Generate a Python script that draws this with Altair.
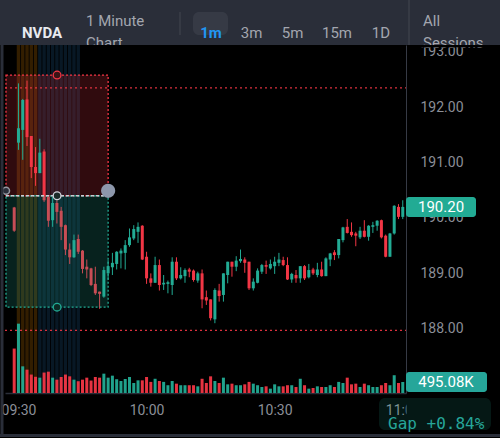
import altair as alt
import pandas as pd
import numpy as np

# ---------------- data ----------------
minutes = list(range(-1, 91))  # minutes after 09:30 (-1 = previous close bar)
opens = [190.19, 191.36, 191.59, 192.14, 191.48, 190.92, 190.81, 191.20, 190.38, 189.96,
         190.27, 190.13, 189.87, 189.43, 189.29, 189.62, 189.41, 189.12, 189.09, 188.81,
         188.67, 188.58, 189.00, 189.11, 189.17, 189.36, 189.37, 189.51, 189.63, 189.75,
         189.86, 189.30, 188.91, 188.83, 189.15, 188.80, 188.81, 188.79, 189.21, 188.91,
         188.95, 189.07, 189.05, 188.87, 189.00, 188.57, 188.53, 188.17, 188.69, 188.61,
         188.97, 189.21, 189.12, 189.22, 189.25, 189.21, 188.73, 188.83, 189.03, 189.15,
         189.09, 189.13, 189.19, 189.24, 189.15, 188.89, 188.97, 188.91, 189.13, 188.93,
         189.07, 188.97, 189.07, 188.95, 189.25, 189.38, 189.33, 189.60, 189.84, 189.75,
         189.72, 189.65, 189.77, 189.66, 189.84, 189.86, 189.96, 189.68, 189.30, 189.72,
         190.20, 190.02]
highs = [190.20, 192.43, 192.15, 192.48, 191.48, 191.28, 191.43, 191.24, 190.40, 190.38,
         190.32, 190.20, 189.88, 189.54, 189.70, 189.70, 189.42, 189.25, 189.10, 189.12,
         188.67, 189.12, 189.24, 189.37, 189.40, 189.45, 189.60, 189.81, 189.87, 189.92,
         189.87, 189.39, 189.00, 189.30, 189.25, 188.97, 188.87, 189.29, 189.29, 189.11,
         189.09, 189.10, 189.07, 189.03, 189.07, 188.69, 188.53, 188.73, 188.81, 189.00,
         189.21, 189.21, 189.31, 189.43, 189.29, 189.21, 188.91, 189.09, 189.17, 189.23,
         189.25, 189.30, 189.37, 189.30, 189.29, 189.01, 189.06, 189.13, 189.15, 189.17,
         189.10, 189.19, 189.21, 189.29, 189.37, 189.42, 189.62, 189.84, 189.98, 189.92,
         189.75, 189.84, 189.96, 189.87, 189.93, 189.96, 189.97, 189.70, 189.73, 190.23,
         190.25, 190.32]
lows = [189.75, 191.23, 191.05, 191.30, 190.72, 190.58, 190.81, 190.29, 189.84, 189.84,
        189.90, 189.60, 189.33, 189.17, 189.28, 189.35, 189.00, 188.91, 188.77, 188.61,
        188.36, 188.56, 188.88, 188.97, 189.07, 189.09, 189.07, 189.48, 189.60, 189.55,
        189.24, 188.81, 188.76, 188.83, 188.69, 188.70, 188.64, 188.61, 188.88, 188.89,
        188.83, 188.93, 188.85, 188.83, 188.37, 188.43, 188.15, 188.10, 188.49, 188.49,
        188.82, 188.94, 189.04, 189.19, 189.01, 188.70, 188.69, 188.82, 188.99, 188.99,
        189.07, 188.99, 189.13, 189.13, 188.88, 188.83, 188.83, 188.83, 188.88, 188.91,
        188.97, 188.93, 188.94, 188.95, 189.13, 189.24, 189.27, 189.56, 189.72, 189.66,
        189.49, 189.62, 189.65, 189.59, 189.73, 189.77, 189.63, 189.29, 189.30, 189.70,
        189.98, 189.98]
closes = [189.77, 191.62, 192.13, 191.46, 190.92, 190.81, 191.18, 190.32, 189.95, 190.27,
          190.11, 189.84, 189.43, 189.29, 189.60, 189.39, 189.08, 189.07, 188.79, 188.64,
          188.63, 189.06, 189.13, 189.19, 189.39, 189.41, 189.51, 189.65, 189.80, 189.84,
          189.25, 188.91, 188.83, 189.15, 188.79, 188.83, 188.84, 189.21, 188.91, 188.97,
          189.06, 189.03, 188.88, 189.00, 188.53, 188.51, 188.19, 188.70, 188.59, 189.00,
          189.21, 189.12, 189.23, 189.26, 189.19, 188.73, 188.85, 189.05, 189.15, 189.12,
          189.17, 189.21, 189.25, 189.15, 188.89, 188.99, 188.91, 189.13, 188.91, 189.06,
          189.00, 189.07, 188.95, 189.27, 189.36, 189.33, 189.62, 189.83, 189.73, 189.69,
          189.68, 189.77, 189.66, 189.86, 189.87, 189.95, 189.65, 189.30, 189.72, 190.22,
          190.02, 190.20]
volumes_k = [2000, 3120, 1200, 1050, 830, 730, 690, 920, 960, 690,
             600, 720, 830, 750, 600, 530, 600, 690, 560, 720,
             690, 870, 690, 780, 620, 540, 630, 720, 450, 570,
             570, 720, 500, 640, 540, 500, 350, 540, 420, 350,
             350, 350, 350, 300, 640, 450, 750, 540, 450, 690,
             390, 420, 350, 350, 390, 500, 420, 350, 270, 300,
             195, 390, 300, 300, 350, 350, 270, 640, 350, 195,
             225, 300, 270, 270, 350, 270, 500, 450, 690, 390,
             420, 270, 420, 350, 270, 270, 350, 450, 350, 800,
             450, 495.08]

price_ticks = [188, 189, 190, 191, 192, 193]
time_ticks = [0, 30, 60, 90]
time_labels = ["09:30", "10:00", "10:30", "11:00"]

# position tool (short) and levels
box_start, box_end = -2.92, 21.0
stop_price, entry_price, target_price = 192.58, 190.40, 188.39
handle_price = 190.49
level_prices = [192.35, 187.97]
orange_minutes = [0, 1, 2, 3, 4]
blue_minutes = [5, 6, 7, 8, 9, 10, 11, 12, 13, 14]

tabs = ["3m", "5m", "15m", "1D"]

# ---------------- styling ----------------
W, H = 401, 348
TEAL = "#22ab94"
RED = "#f23645"
GRAY = "#8b8e97"
HDR = "#2a2e39"

df = pd.DataFrame(dict(m=minutes, o=opens, h=highs, l=lows, c=closes, v=volumes_k))
df["dir"] = np.where(df.c >= df.o, "up", "down")

xs = alt.Scale(domain=[-3.155, 90.76], nice=False, zero=False, padding=0)
ys = alt.Scale(domain=[186.84, 193.123], nice=False, zero=False, padding=0)
vs = alt.Scale(domain=[0, 15660], nice=False, zero=True, padding=0)
cs = alt.Scale(domain=["up", "down"], range=[TEAL, RED])

label_expr = " : ".join(
    f"datum.value == {t} ? '{l}'" for t, l in zip(time_ticks, time_labels)) + " : ''"
XAX = alt.Axis(values=time_ticks, labelExpr=label_expr, labelColor=GRAY, labelFontSize=14,
               labelFont="Roboto", labelPadding=10, ticks=False, tickSize=0, grid=False,
               domain=True, domainColor=HDR, domainWidth=1.5, labelFlush=False,
               labelOverlap=False, title=None)
YAX = alt.Axis(orient="right", values=price_ticks, format=".2f", labelColor=GRAY,
               labelFontSize=14, labelFont="Roboto", labelPadding=14, ticks=False,
               tickSize=0, grid=False, domain=True, domainColor="#363a45", title=None)


def X(f):
    return alt.X(f, type="quantitative", scale=xs, axis=XAX)


def Y(f):
    return alt.Y(f, type="quantitative", scale=ys, axis=YAX)


one = pd.DataFrame({"k": [0]})


def rect(x0, x1, y0, y1, color, **kw):
    return alt.Chart(one).mark_rect(color=color, **kw).encode(
        x=alt.value(x0 - 5), x2=alt.value(x1 - 5), y=alt.value(y0 - 45), y2=alt.value(y1 - 45))


def vline(x, y0, y1, color, w=1):
    return alt.Chart(one).mark_rule(color=color, strokeWidth=w).encode(
        x=alt.value(x - 5), y=alt.value(y0 - 45), y2=alt.value(y1 - 45))


def txt(s, x, y, size=15, color="#a3a6af", weight="normal", align="left",
        font="Roboto", baseline="middle"):
    return alt.Chart(one).mark_text(text=s, align=align, baseline=baseline, fontSize=size,
                                    color=color, fontWeight=weight, font=font).encode(
        x=alt.value(x - 5), y=alt.value(y - 45))


# ---------------- header ----------------
header = [
    rect(-5, 500, 0, 45, HDR),
    txt("NVDA", 22, 33, size=15, color="#e8eaf0", weight="bold"),
    txt("1 Minute", 86, 21),
    txt("Chart", 86, 43),
    vline(180, 12, 35, "#434651"),
    rect(193, 228, 12, 35, "#363a45", cornerRadius=6),
    txt("1m", 211, 33, color="#2196f3", weight="bold", align="center"),
]
for lab, cx in zip(tabs, [251.5, 292.5, 337, 381]):
    header.append(txt(lab, cx, 33, align="center"))
header += [
    vline(409, 0, 45, "#434651"),
    txt("All", 423, 21),
    txt("Sessions", 423, 43),
    rect(82, 170, 45, 52, "#000000"),
    rect(415, 498, 45, 47.5, "#000000"),
]

# ---------------- plot content ----------------
stripes_o = alt.Chart(pd.DataFrame({"m": orange_minutes})).transform_calculate(
    a="datum.m - 0.4", b="datum.m + 0.4").mark_rect(color="#ff9800", opacity=0.2).encode(
    x=X("a"), x2="b", y=alt.value(0), y2=alt.value(H))
stripes_b = alt.Chart(pd.DataFrame({"m": blue_minutes})).transform_calculate(
    a="datum.m - 0.4", b="datum.m + 0.4").mark_rect(color="#2979b9", opacity=0.2).encode(
    x=X("a"), x2="b", y=alt.value(0), y2=alt.value(H))

box = pd.DataFrame({"x0": [box_start], "x1": [box_end], "stop": [stop_price],
                    "entry": [entry_price], "target": [target_price],
                    "mid": [(box_start + box_end) / 2], "hp": [handle_price]})

red_zone = alt.Chart(box).mark_rect(fill=RED, fillOpacity=0.2, stroke=RED, strokeDash=[2, 2],
                                    strokeWidth=1.3).encode(
    x=X("x0"), x2="x1", y=Y("stop"), y2="entry")

levels = alt.Chart(pd.DataFrame({"p": level_prices})).mark_rule(
    color=RED, strokeDash=[2, 3], strokeWidth=1.3, opacity=0.9).encode(
    y=Y("p"), x=alt.value(0), x2=alt.value(W))

wicks = alt.Chart(df).mark_rule(strokeWidth=1).encode(
    x=X("m"), y=Y("l"), y2="h", color=alt.Color("dir:N", scale=cs, legend=None))
bodies = alt.Chart(df).mark_bar(size=3).encode(
    x=X("m"), y=Y("o"), y2="c", color=alt.Color("dir:N", scale=cs, legend=None))

green_zone = alt.Chart(box).mark_rect(fill=TEAL, fillOpacity=0.2, stroke=TEAL,
                                      strokeDash=[2, 2], strokeWidth=1.3).encode(
    x=X("x0"), x2="x1", y=Y("entry"), y2="target")
entry_line = alt.Chart(box).mark_rule(color="#c9ccd3", strokeDash=[3, 2],
                                      strokeWidth=1.5).encode(
    x=X("x0"), x2="x1", y=Y("entry"))

h_top = alt.Chart(box).mark_point(shape="circle", size=60, fill="#3a1416", fillOpacity=1,
                                  stroke=RED, strokeWidth=1.3, opacity=1).encode(
    x=X("mid"), y=Y("stop"))
h_mid = alt.Chart(box).mark_point(shape="circle", size=60, fill="#1b2a28", fillOpacity=1,
                                  stroke="#d1d4dc", strokeWidth=1.3, opacity=1).encode(
    x=X("mid"), y=Y("entry"))
h_bot = alt.Chart(box).mark_point(shape="circle", size=60, fill="#0c2a25", fillOpacity=1,
                                  stroke=TEAL, strokeWidth=1.3, opacity=1).encode(
    x=X("mid"), y=Y("target"))
h_left = alt.Chart(box).mark_point(shape="circle", size=50, fill="#2a2e39", fillOpacity=1,
                                   stroke="#9598a1", strokeWidth=1.5, opacity=1).encode(
    x=X("x0"), y=Y("hp"))
h_right = alt.Chart(box).mark_point(shape="circle", size=150, fill="#8d97ab", fillOpacity=1,
                                    stroke="#8d97ab", opacity=1).encode(
    x=X("x1"), y=Y("hp"))

last = df.tail(1)
price_box = alt.Chart(last).mark_rect(color=TEAL, cornerRadius=3, yOffset=-10,
                                      y2Offset=10).encode(
    y=Y("c"), y2="c", x=alt.value(W), x2=alt.value(W + 70))
price_txt = alt.Chart(last).transform_calculate(t="format(datum.c, '.2f')").mark_text(
    color="white", fontSize=15, font="Roboto", align="center", baseline="middle").encode(
    y=Y("c"), x=alt.value(W + 35), text="t:N")

gap_pct = (opens[1] - closes[0]) / closes[0] * 100
bottom = [
    rect(406.5, 500, 395, 438, "#000000"),
    rect(379, 491, 398, 430, TEAL, opacity=0.14, cornerRadius=6),
    txt(f"Gap {gap_pct:+.2f}%", 388, 429, size=16, color="#26a69a",
        font="DejaVu Sans Mono", baseline="alphabetic"),
    vline(2, 45, 437, HDR, w=3),
    alt.Chart(one).mark_rule(color=HDR, strokeWidth=3).encode(
        x=alt.value(-5), x2=alt.value(495), y=alt.value(435.5 - 45)),
]

price_layer = alt.layer(
    *header, stripes_o, stripes_b, red_zone, levels, wicks, bodies, green_zone,
    entry_line, h_top, h_mid, h_bot, h_left, h_right, price_box, price_txt, *bottom)

# ---------------- volume ----------------
vol_bars = alt.Chart(df).mark_bar(size=3, opacity=0.95).encode(
    x=X("m"), y=alt.Y("v:Q", scale=vs, axis=None),
    color=alt.Color("dir:N", scale=cs, legend=None))
vol_box = alt.Chart(last).mark_rect(color="#26a69a", cornerRadius=3, yOffset=-10,
                                    y2Offset=10).encode(
    y=alt.Y("v:Q", scale=vs, axis=None), y2="v", x=alt.value(W), x2=alt.value(W + 81))
vol_txt = alt.Chart(last).transform_calculate(t="format(datum.v, '.2f') + 'K'").mark_text(
    color="white", fontSize=15, font="Roboto", align="center", baseline="middle").encode(
    y=alt.Y("v:Q", scale=vs, axis=None), x=alt.value(W + 40), text="t:N")
vol_layer = alt.layer(vol_bars, vol_box, vol_txt)

chart = alt.layer(price_layer, vol_layer).resolve_scale(y="independent").properties(
    width=W, height=H, autosize="none",
    padding={"left": 5, "top": 45, "right": 94, "bottom": 45},
    background="#000000",
).configure_view(stroke=None)

chart.save("out.html", embed_options={"renderer": "svg", "actions": False})
